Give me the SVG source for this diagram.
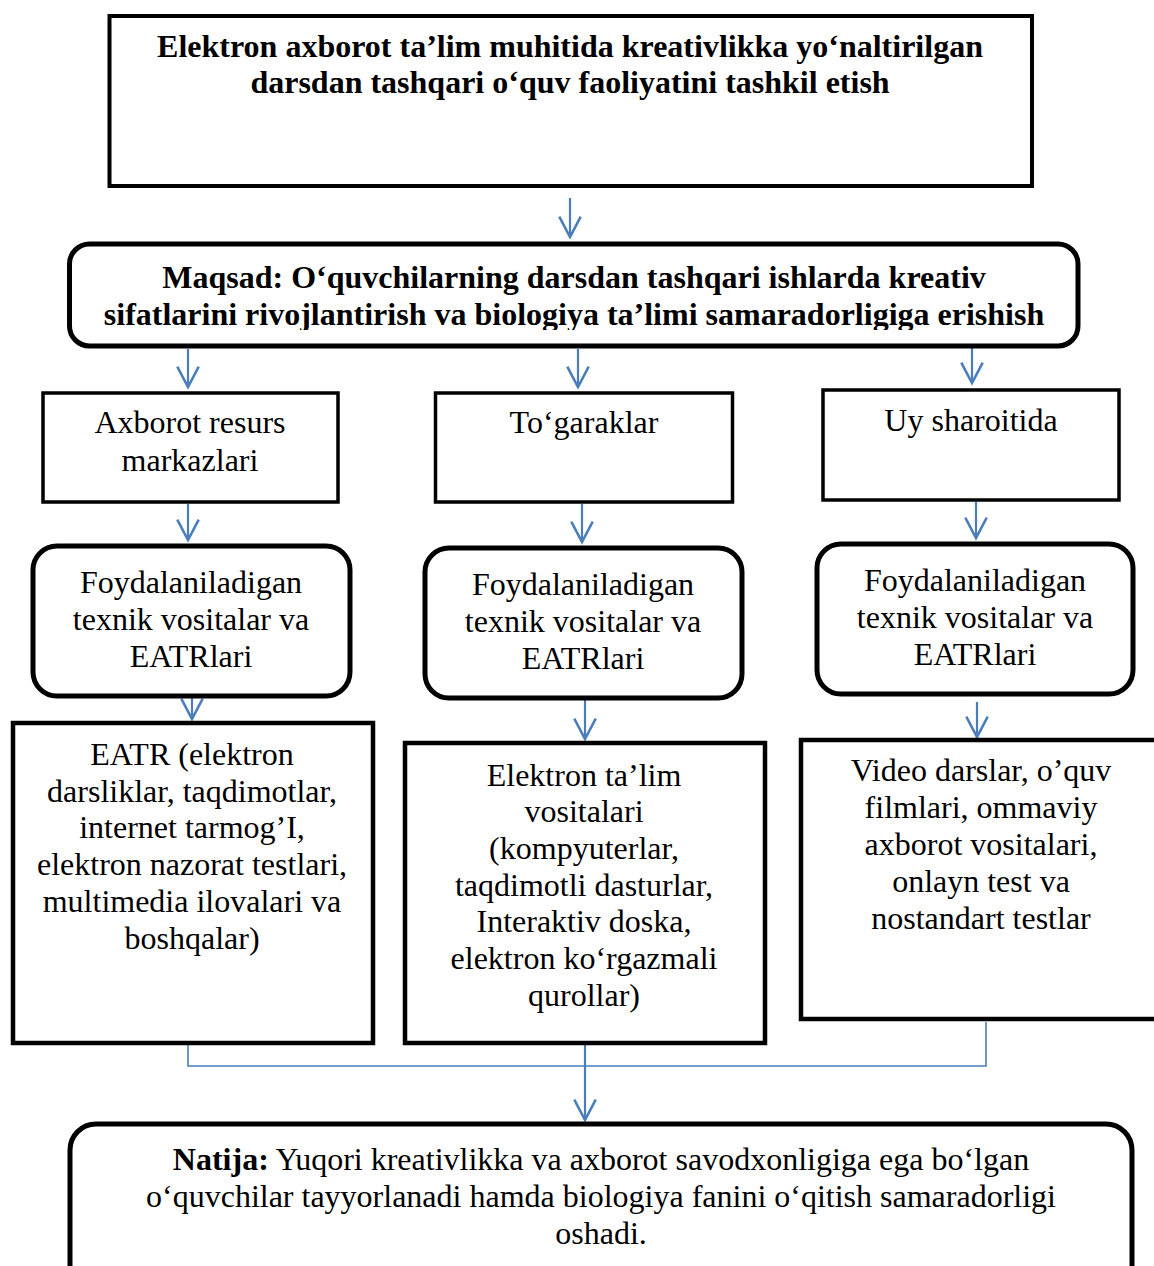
<svg xmlns="http://www.w3.org/2000/svg" width="1154" height="1266" viewBox="0 0 1154 1266">
<style>
.t{font-family:"Liberation Serif","Times New Roman",serif;font-size:32px;fill:#000;text-anchor:middle}
.b{font-weight:bold}
.box{fill:#fff;stroke:#000}
.arr{fill:none;stroke:#4A7EBB;stroke-width:2.2;marker-end:url(#ah)}
.ln{fill:none;stroke:#4A7EBB;stroke-width:1.6}
</style>
<defs>
<marker id="ah" markerUnits="userSpaceOnUse" markerWidth="30" markerHeight="30" viewBox="-24 -14 28 28" refX="0" refY="0" orient="auto" overflow="visible">
<path d="M-19,-10 L0,0 L-19,10" fill="none" stroke="#4A7EBB" stroke-width="2.4"/>
</marker>
<clipPath id="mclip"><rect x="72" y="248" width="1004" height="82"/></clipPath>
</defs>
<rect width="1154" height="1266" fill="#fff"/>

<g id="connectors">
<line class="arr" x1="570" y1="198" x2="570" y2="237"/>
<line class="arr" x1="188" y1="349" x2="188" y2="387"/>
<line class="arr" x1="578" y1="349" x2="578" y2="387"/>
<line class="arr" x1="972" y1="347" x2="972" y2="383"/>
<line class="arr" x1="188" y1="504" x2="188" y2="540"/>
<line class="arr" x1="582" y1="504" x2="582" y2="542"/>
<line class="arr" x1="976" y1="502" x2="976" y2="538"/>
<line class="arr" x1="192" y1="698" x2="192" y2="719"/>
<line class="arr" x1="585" y1="700" x2="585" y2="739"/>
<line class="arr" x1="977" y1="702" x2="977" y2="737"/>
<polyline class="ln" points="188,1022 188,1066 986,1066 986,1022"/>
<line class="arr" x1="585" y1="1022" x2="585" y2="1120"/>
</g>

<g id="top">
<rect class="box" x="109.5" y="16" width="922.5" height="170" stroke-width="4"/>
<text class="t b" x="570" y="57">Elektron axborot ta’lim muhitida kreativlikka yo‘naltirilgan</text>
<text class="t b" x="570" y="93">darsdan tashqari o‘quv faoliyatini tashkil etish</text>
</g>

<g id="maqsad">
<rect class="box" x="69.5" y="244" width="1008.5" height="102" rx="20" stroke-width="5"/>
<g clip-path="url(#mclip)">
<text class="t b" x="574" y="288">Maqsad: O‘quvchilarning darsdan tashqari ishlarda kreativ</text>
<text class="t b" x="574" y="325">sifatlarini rivojlantirish va biologiya ta’limi samaradorligiga erishish</text>
</g>
</g>

<g id="axborot">
<rect class="box" x="43" y="393" width="295" height="109" stroke-width="3.5"/>
<text class="t" x="190" y="433">Axborot resurs</text>
<text class="t" x="190" y="471">markazlari</text>
</g>
<g id="togaraklar">
<rect class="box" x="435.5" y="393" width="297" height="109" stroke-width="3.5"/>
<text class="t" x="584" y="433">To‘garaklar</text>
</g>
<g id="uy">
<rect class="box" x="823" y="390" width="296" height="110" stroke-width="3.5"/>
<text class="t" x="971" y="431">Uy sharoitida</text>
</g>

<g id="foyda1">
<rect class="box" x="33" y="546" width="317" height="150" rx="24" stroke-width="5"/>
<text class="t" x="191" y="593">Foydalaniladigan</text>
<text class="t" x="191" y="630">texnik vositalar va</text>
<text class="t" x="191" y="667">EATRlari</text>
</g>
<g id="foyda2">
<rect class="box" x="425" y="548" width="317" height="150" rx="24" stroke-width="5"/>
<text class="t" x="583" y="595">Foydalaniladigan</text>
<text class="t" x="583" y="632">texnik vositalar va</text>
<text class="t" x="583" y="669">EATRlari</text>
</g>
<g id="foyda3">
<rect class="box" x="817" y="544" width="316" height="150" rx="24" stroke-width="5"/>
<text class="t" x="975" y="591">Foydalaniladigan</text>
<text class="t" x="975" y="628">texnik vositalar va</text>
<text class="t" x="975" y="665">EATRlari</text>
</g>

<g id="eatr">
<rect class="box" x="13" y="723" width="360" height="320" stroke-width="4.5"/>
<text class="t" x="192" y="765">EATR (elektron</text>
<text class="t" x="192" y="802">darsliklar, taqdimotlar,</text>
<text class="t" x="192" y="838">internet tarmog’I,</text>
<text class="t" x="192" y="875">elektron nazorat testlari,</text>
<text class="t" x="192" y="912">multimedia ilovalari va</text>
<text class="t" x="192" y="949">boshqalar)</text>
</g>
<g id="elektron">
<rect class="box" x="405" y="743" width="360" height="300" stroke-width="4.5"/>
<text class="t" x="584" y="786">Elektron ta’lim</text>
<text class="t" x="584" y="822">vositalari</text>
<text class="t" x="584" y="859">(kompyuterlar,</text>
<text class="t" x="584" y="896">taqdimotli dasturlar,</text>
<text class="t" x="584" y="932">Interaktiv doska,</text>
<text class="t" x="584" y="969">elektron ko‘rgazmali</text>
<text class="t" x="584" y="1006">qurollar)</text>
</g>
<g id="video">
<rect class="box" x="801" y="740" width="370" height="279" stroke-width="4.5"/>
<text class="t" x="981" y="781">Video darslar, o’quv</text>
<text class="t" x="981" y="818">filmlari, ommaviy</text>
<text class="t" x="981" y="855">axborot vositalari,</text>
<text class="t" x="981" y="892">onlayn test va</text>
<text class="t" x="981" y="929">nostandart testlar</text>
</g>

<g id="natija">
<rect class="box" x="70" y="1124" width="1062" height="170" rx="26" stroke-width="5"/>
<text class="t" x="601" y="1170"><tspan class="b">Natija:</tspan> Yuqori kreativlikka va axborot savodxonligiga ega bo‘lgan</text>
<text class="t" x="601" y="1207">o‘quvchilar tayyorlanadi hamda biologiya fanini o‘qitish samaradorligi</text>
<text class="t" x="601" y="1244">oshadi.</text>
</g>
</svg>
